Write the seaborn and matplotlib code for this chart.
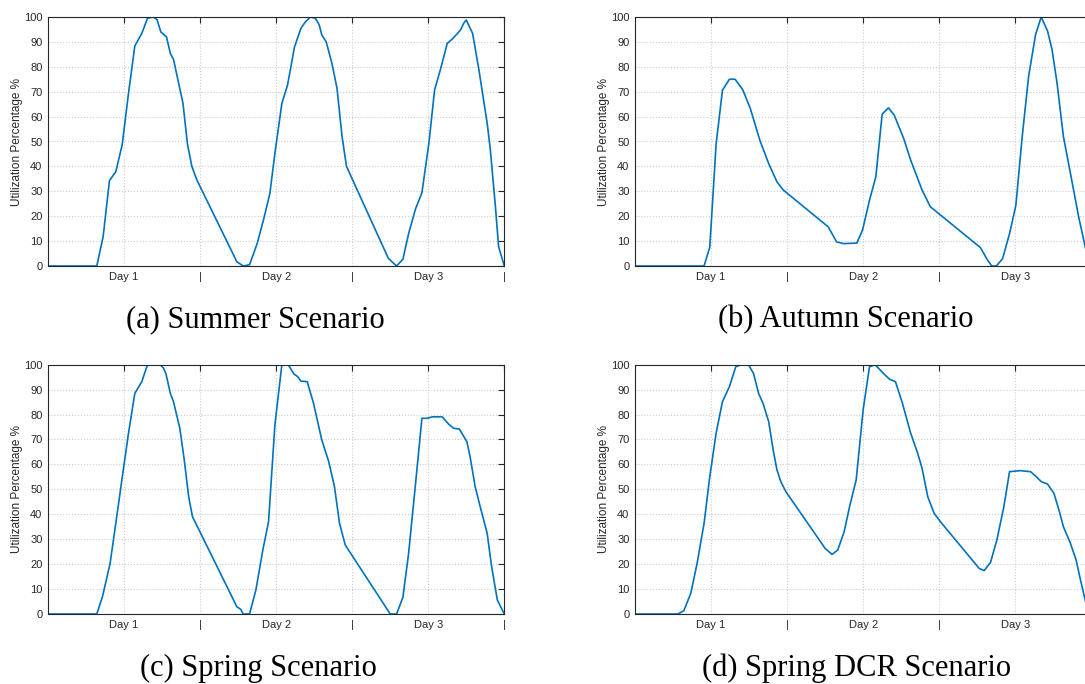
import matplotlib
matplotlib.use('Agg')
import matplotlib.pyplot as plt
import seaborn as sns

# Hours over the three days and utilisation values
summer_h = [0, 7.7, 8.7, 9.7, 10.7, 11.7, 12.7, 13.7, 14.8, 15.7, 16.6, 17.2, 17.8, 18.7, 19.3, 19.8,
            21.3, 22.0, 22.7, 23.5, 29.8, 30.8, 31.8, 33.0, 34.0, 35.0, 35.8, 36.9, 37.8, 38.9, 39.9,
            40.6, 41.4, 42.2, 42.8, 43.2, 43.9, 44.8, 45.6, 46.4, 47.1, 53.7, 55.0, 56.0, 56.9, 58.0,
            59.0, 60.1, 61.0, 61.9, 63.0, 63.9, 65.1, 65.6, 66.0, 67.0, 68.0, 69.3, 69.8, 70.6, 71.1, 72.0]
summer_v = [0, 0, 11.8, 34.3, 37.9, 48.6, 69.3, 88.4, 93.4, 99.5, 100, 99, 94, 92, 85.4, 83,
            65.3, 49, 40, 34.5, 1.7, 0, 0.5, 9, 18.5, 29, 45.2, 65.3, 72.7, 88, 95.4,
            98, 100, 99.5, 96.8, 92.8, 90, 81.4, 71.4, 52, 40, 3.1, 0, 2.7, 13, 23,
            29.4, 49.3, 70.7, 78.7, 89.4, 91.4, 94.8, 97.5, 98.8, 93.4, 78.7, 57.3, 46.6, 23.8, 7.8, 0]

autumn_h = [0, 10.9, 11.8, 12.8, 13.8, 14.9, 15.8, 17.0, 18.2, 19.7, 21.1, 22.4, 23.4, 30.5, 31.8,
            32.9, 35.0, 35.9, 37.0, 38.0, 39.0, 40.0, 40.9, 42.4, 43.5, 45.3, 46.6, 47.9, 54.5, 55.5,
            56.3, 57.0, 58.0, 59.1, 60.1, 61.1, 62.1, 63.2, 64.1, 65.1, 65.8, 66.6, 67.6, 69.0, 70.0,
            71.1, 72.0]
autumn_v = [0, 0, 7.6, 49, 70.6, 75, 75, 70.8, 63.2, 50.5, 41.1, 33.8, 30.5, 15.7, 9.7,
            9, 9.2, 14.4, 26.4, 35.8, 61, 63.5, 60.6, 51.2, 42.5, 30.5, 23.8, 21.1, 7.4, 2.9,
            0, 0, 2.9, 13, 24.4, 52, 76, 92.9, 100, 94.3, 87, 73.4, 52, 33.3, 19.8,
            7, 1]

spring_h = [0, 7.7, 8.6, 9.8, 10.7, 11.8, 12.7, 13.7, 14.8, 15.7, 17.7, 18.2, 18.6, 19.3, 19.8,
            20.8, 21.5, 22.2, 22.8, 23.7, 29.8, 30.4, 30.8, 31.8, 32.8, 33.9, 34.8, 35.8, 36.9, 37.9,
            38.8, 39.4, 39.9, 40.9, 41.9, 43.2, 44.3, 45.2, 46.0, 46.9, 54.0, 55.0, 56.0, 56.9, 58.0,
            59.0, 59.8, 60.7, 62.2, 63.2, 64.0, 64.9, 66.1, 66.6, 67.4, 68.2, 69.3, 70.0, 70.9, 72.0]
spring_v = [0, 0, 7, 20.3, 36.4, 56.4, 72.5, 88.5, 93.2, 100, 100, 98.7, 96.5, 88.5, 85.2,
            74.5, 61.8, 47, 39, 34.4, 2.9, 1.9, 0, 0, 9.6, 25.7, 37, 75.8, 100, 100,
            96.3, 95.2, 93.4, 93.2, 84.5, 69.8, 61.1, 51.1, 36.4, 27.7, 0, 0, 6.7, 24.3, 52.4,
            78.5, 78.5, 79.1, 79.1, 76.2, 74.5, 74.2, 69.1, 63.1, 51.1, 43, 32.3, 19, 5.6, 0]

dcr_h = [0, 6.8, 7.7, 8.8, 9.8, 10.9, 11.8, 12.8, 13.8, 14.9, 15.9, 16.8, 17.9, 18.7, 19.5,
         20.2, 21.1, 21.8, 22.4, 23.0, 23.8, 30.0, 31.1, 32.0, 33.0, 33.9, 34.9, 36.0, 37.0, 37.9,
         39.2, 40.2, 41.1, 42.2, 43.5, 44.6, 45.3, 46.2, 47.2, 48.2, 54.3, 55.1, 56.1, 57.1, 58.2,
         59.1, 60.8, 62.4, 63.2, 64.1, 65.1, 66.1, 66.9, 67.6, 68.7, 69.6, 70.3, 71.1, 72.0]
dcr_v = [0, 0, 1.3, 8.3, 20.3, 36.4, 55.1, 72.5, 85.2, 91.2, 99.2, 100, 100, 96.5, 88.5,
         84.5, 77.1, 65.8, 57.8, 53.1, 49.1, 26.3, 23.9, 25.7, 33, 43.5, 53.8, 81.9, 99.2, 100,
         96.5, 94.1, 93.2, 84.5, 72.5, 64.5, 58.4, 47, 40.4, 37, 18.3, 17.4, 20.7, 29.7, 43,
         57.1, 57.5, 57.1, 55.4, 53.1, 52.1, 48.4, 41.7, 35, 28.4, 21.7, 13.6, 4.9, 0.5]

xticks = [12, 24, 36, 48, 60, 72]
xtick_labels = ['Day 1', '|', 'Day 2', '|', 'Day 3', '|']
yticks = list(range(0, 101, 10))
captions = ['(a) Summer Scenario', '(b) Autumn Scenario',
            '(c) Spring Scenario', '(d) Spring DCR Scenario']

sns.set_style('white')
plt.rcParams['font.family'] = ['Liberation Sans', 'DejaVu Sans']

W, H = 1085, 684
fig = plt.figure(figsize=(W / 100, H / 100), dpi=100)

# axes boxes in pixels: left, top, right, bottom (right column runs off the page)
boxes = [(48, 17, 504.3, 266), (635, 17, 1091.3, 266),
         (48, 364.7, 504.3, 614), (635, 364.7, 1091.3, 614)]
caption_pos = [(255, 320), (846, 320), (258, 668), (857, 668)]
series = [(summer_h, summer_v), (autumn_h, autumn_v),
          (spring_h, spring_v), (dcr_h, dcr_v)]

dark = '#262626'
for i, ((l, t, r, b), (hx, vy), cap, (cx, cy)) in enumerate(zip(boxes, series, captions, caption_pos)):
    ax = fig.add_axes([l / W, 1 - b / H, (r - l) / W, (b - t) / H])
    sns.lineplot(x=hx, y=vy, ax=ax, color='#0072BD', linewidth=1.2,
                 estimator=None, sort=False)
    ax.set_xlim(0, 72)
    ax.set_ylim(0, 100)
    ax.set_xticks(xticks)
    labels = list(xtick_labels)
    if i % 2 == 1:
        # the last divider falls past the page edge in the right column
        labels[-1] = ''
    ax.set_xticklabels(labels)
    ax.set_yticks(yticks)
    ax.grid(True, linestyle=':', color='#cccccc', linewidth=0.8)
    ax.set_axisbelow(True)
    ax.tick_params(direction='in', length=4, width=0.8, top=True, right=True,
                   color=dark, labelcolor=dark, labelsize=8, pad=4)
    for s in ax.spines.values():
        s.set_color(dark)
        s.set_linewidth(0.8)
    ax.set_ylabel('Utilization Percentage %', fontsize=8.5, color=dark, labelpad=1)
    ax.set_xlabel('')
    fig.text(cx / W, 1 - cy / H, cap, family='Liberation Serif', fontsize=22,
             ha='center', va='center', color='black')

fig.savefig('out.png', dpi=100)
